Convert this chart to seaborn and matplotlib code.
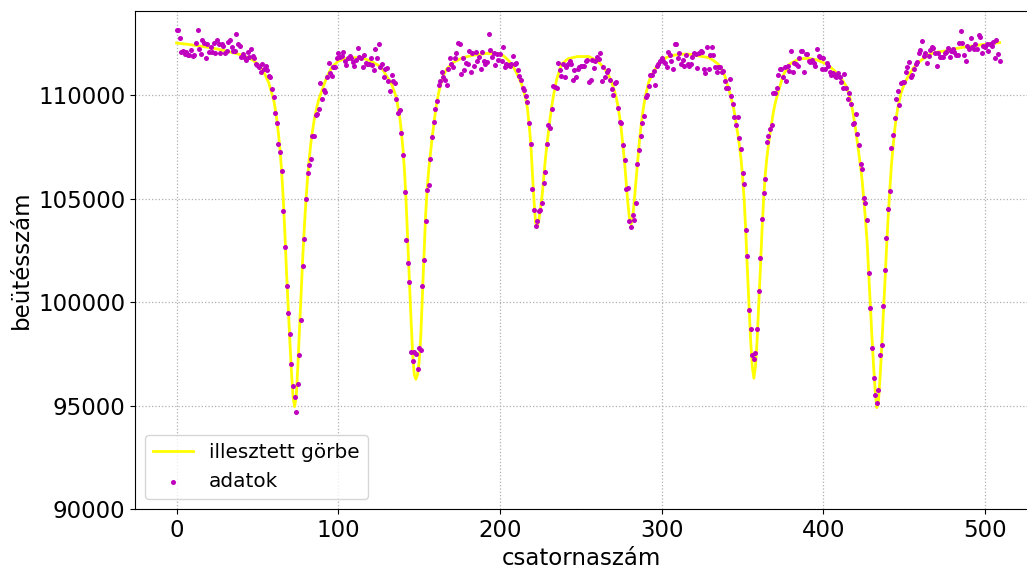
import numpy as np
import matplotlib
matplotlib.use("Agg")
import matplotlib.pyplot as plt
import seaborn as sns

# measured counts, one value per channel (0..509)
counts = [
    113150, 113150, 112760, 112070, 112150, 111990, 112070, 111940, 111940, 112180,
    111910, 111940, 112520, 113150, 112230, 111990, 112680, 112520, 111780, 112470,
    112070, 112340, 112070, 112520, 112040, 112680, 112470, 112040, 112470, 112390,
    112040, 112150, 112580, 112680, 112310, 112150, 112150, 112960, 112470, 112390,
    111830, 111990, 111830, 111710, 112070, 111830, 112230, 111910, 111780, 111500,
    111450, 111340, 111130, 111530, 111260, 111420, 111210, 110940, 110860, 110290,
    109920, 109130, 108680, 107660, 107250, 106330, 104400, 102640, 100760, 99470,
    98470, 97000, 95960, 95400, 94710, 96050, 97450, 99120, 101750, 103060,
    104990, 106240, 106610, 106920, 108050, 108050, 109050, 109100, 109320, 110580,
    109840, 110260, 110160, 110900, 111580, 111050, 110940, 111340, 111370, 111820,
    112020, 111870, 111910, 112070, 111660, 111470, 111780, 111910, 111780, 111620,
    111420, 111700, 112260, 111870, 111790, 111370, 111940, 111580, 111530, 111530,
    111780, 111450, 111210, 112230, 111780, 112470, 111370, 111530, 110890, 111290,
    111310, 110690, 110210, 110980, 110690, 110610, 109840, 109160, 109270, 108190,
    107090, 105320, 103020, 101890, 100960, 97580, 97130, 97610, 97480, 96760,
    97780, 97690, 100760, 102050, 103940, 105400, 105640, 106930, 107980, 108710,
    109320, 109720, 110480, 110690, 111130, 110890, 110730, 110480, 111290, 111820,
    111530, 111340, 111780, 112020, 112500, 112470, 111020, 111790, 111210, 111580,
    111530, 112120, 111130, 112030, 111420, 112070, 111660, 111860, 111260, 112070,
    111660, 111530, 111620, 112960, 112180, 111870, 112020, 111470, 112000, 111700,
    112000, 111630, 112310, 111370, 111500, 111450, 111420, 111500, 111910, 111500,
    111580, 111200, 110940, 110730, 110370, 110260, 109940, 109650, 108640, 107630,
    105480, 104430, 103670, 103910, 104400, 104440, 104800, 105770, 106290, 107660,
    108550, 108430, 109350, 110450, 110420, 110370, 111580, 111230, 110940, 111500,
    110860, 111370, 111500, 111660, 111500, 110730, 111230, 110900, 111260, 111370,
    111420, 111420, 111420, 111660, 111710, 110650, 110730, 111710, 111310, 111660,
    111870, 111740, 112020, 110690, 111340, 110900, 111130, 111210, 110730, 110320,
    110000, 110610, 110660, 109370, 108720, 108640, 107590, 106850, 105490, 105530,
    103910, 103640, 104220, 103990, 104800, 106690, 107340, 108030, 108680, 109000,
    109890, 110000, 110450, 110970, 110970, 111180, 110480, 111420, 111530, 111660,
    111780, 111660, 111580, 111340, 112070, 111940, 111660, 111260, 112470, 112470,
    111780, 112020, 111500, 111710, 111420, 111940, 111530, 111420, 111500, 111870,
    112020, 111990, 111310, 112020, 112150, 112070, 111260, 111050, 112310, 111260,
    111950, 112310, 111950, 111370, 111130, 111370, 111370, 111100, 111180, 110690,
    110370, 110340, 110780, 109970, 109560, 108950, 108550, 108950, 107920, 107380,
    106220, 105690, 103480, 102220, 99630, 98710, 97420, 97240, 97530, 98710,
    100550, 102140, 104040, 105280, 105930, 107740, 108030, 108350, 108550, 110100,
    110100, 110370, 110970, 111290, 111260, 110860, 111340, 110690, 111420, 111180,
    112150, 111100, 111580, 111500, 111420, 111780, 112120, 112120, 111130, 111990,
    111990, 111660, 111620, 111710, 111580, 111420, 112230, 111910, 111830, 111290,
    111780, 111290, 111580, 111420, 111130, 110970, 111070, 110940, 110860, 111070,
    110900, 110650, 110370, 111020, 110370, 109840, 110130, 109560, 108630, 108680,
    109080, 108140, 107580, 106690, 106420, 105040, 104800, 103960, 101410, 99710,
    97770, 96320, 95510, 95140, 95760, 97450, 97940, 99830, 101540, 103100,
    104510, 105370, 107460, 108060, 108920, 109810, 110210, 109520, 110580, 110650,
    110650, 111100, 111340, 111620, 110860, 110990, 111260, 111530, 111620, 112020,
    112200, 112600, 111910, 112020, 111580, 111910, 112200, 112310, 112260, 112020,
    111420, 112020, 111830, 111830, 111830, 112020, 112070, 112260, 111830, 112150,
    112230, 112070, 111940, 111940, 112500, 113080, 112520, 111940, 111630, 112360,
    112230, 112750, 112310, 112230, 112470, 112230, 112910, 112790, 112040, 112390,
    112310, 112470, 112150, 112470, 112390, 112550, 111780, 112680, 111990, 111630,
]
channel = np.arange(len(counts))

# fitted curve
fit_channel = [
    0, 7, 13, 19, 24, 30, 34, 38, 41, 44, 47, 50, 53, 55, 57, 59, 60, 61, 62, 63,
    64, 65, 66, 67, 68, 69, 70, 71, 72, 73, 74, 75, 76, 77, 78, 79, 80, 81, 82, 83,
    84, 85, 86, 87, 88, 90, 93, 96, 100, 105, 110, 115, 120, 125, 128, 130, 132, 133, 134, 135,
    136, 137, 138, 139, 140, 141, 142, 143, 144, 145, 146, 147, 148, 149, 150, 151, 152, 153, 154, 155,
    156, 157, 158, 159, 160, 161, 163, 165, 167, 171, 177, 184, 192, 200, 203, 205, 207, 209, 211, 213,
    214, 215, 216, 217, 218, 219, 220, 221, 222, 223, 224, 225, 226, 227, 228, 229, 230, 231, 232, 233,
    235, 238, 242, 248, 255, 258, 261, 264, 267, 269, 271, 272, 273, 274, 275, 276, 277, 278, 279, 280,
    281, 282, 283, 284, 285, 286, 287, 288, 289, 290, 292, 295, 299, 303, 308, 312, 316, 320, 325, 329,
    332, 335, 337, 339, 341, 342, 343, 344, 345, 346, 347, 348, 349, 350, 351, 352, 353, 354, 355, 356,
    357, 358, 359, 360, 361, 362, 363, 364, 365, 366, 367, 368, 369, 370, 371, 372, 373, 375, 379, 385,
    391, 396, 402, 406, 409, 412, 414, 416, 418, 420, 422, 423, 424, 425, 426, 427, 428, 429, 430, 431,
    432, 433, 434, 435, 436, 437, 438, 439, 440, 441, 442, 443, 444, 445, 446, 448, 450, 453, 456, 459,
    462, 466, 470, 476, 481, 486, 491, 497, 503, 509,
]
fit_counts = [
    112520, 112460, 112390, 112320, 112250, 112150, 112070, 111990, 111920, 111820,
    111700, 111520, 111230, 110950, 110600, 110050, 109800, 109350, 108800, 108150,
    107350, 106300, 104950, 103300, 101450, 99800, 98200, 96700, 95450, 94950,
    95450, 96900, 98650, 100450, 102100, 103600, 104900, 106000, 106900, 107650,
    108250, 108750, 109150, 109500, 109800, 110250, 110900, 111350, 111650, 111780,
    111820, 111790, 111660, 111430, 111180, 110900, 110680, 110530, 110320, 110100,
    109830, 109400, 108950, 108250, 107400, 106300, 104750, 102900, 101000, 99150,
    97500, 96500, 96270, 96500, 97100, 98300, 100300, 102300, 104200, 105500,
    106450, 107200, 107900, 108550, 109150, 109700, 110450, 110950, 111260, 111580,
    111820, 111940, 112020, 112010, 111850, 111700, 111520, 111270, 110950, 110600,
    110380, 110100, 109800, 109350, 108600, 107700, 106300, 104950, 103850, 103620,
    103950, 104500, 105100, 106000, 106850, 107600, 108250, 108900, 109450, 109950,
    110750, 111490, 111760, 111870, 111870, 111750, 111600, 111350, 111000, 110650,
    110150, 109850, 109450, 108950, 108350, 107600, 106800, 105850, 104850, 104100,
    103750, 104050, 104850, 105750, 106700, 107600, 108350, 109000, 109550, 109980,
    110650, 111150, 111620, 111830, 111940, 111980, 111990, 111940, 111870, 111820,
    111680, 111500, 111250, 110950, 110400, 110150, 109850, 109550, 109150, 108650,
    108150, 107600, 106950, 106100, 104950, 103400, 101550, 99850, 98150, 96900,
    96320, 96900, 98150, 99850, 101550, 103400, 104950, 106100, 106950, 107600,
    108150, 108650, 109150, 109550, 109850, 110150, 110400, 110950, 111500, 111760,
    111780, 111710, 111500, 111250, 111000, 110700, 110450, 110000, 109300, 108300,
    107150, 106550, 105850, 104950, 104000, 102950, 101400, 99950, 98350, 96950,
    95750, 94900, 95150, 96300, 97750, 99300, 100900, 102550, 104050, 105350,
    106550, 107450, 108250, 108900, 109400, 110100, 110550, 111000, 111350, 111600,
    111780, 111990, 112080, 112150, 112240, 112310, 112370, 112430, 112490, 112540,
]

x_ticks = [0, 100, 200, 300, 400, 500]
y_ticks = [90000, 95000, 100000, 105000, 110000]

fig = plt.figure(figsize=(10.27, 5.71), dpi=100)
ax = fig.add_axes([135 / 1027, 62 / 571, 892 / 1027, 498 / 571])

sns.lineplot(x=fit_channel, y=fit_counts, color="yellow", lw=2,
             label="illesztett görbe", ax=ax)
sns.scatterplot(x=channel, y=counts, color="m", s=13, linewidth=0,
                label="adatok", ax=ax, zorder=3)

ax.set_xlim(-25.7, 525.9)
ax.set_ylim(90000, 114070)
ax.set_xticks(x_ticks)
ax.set_yticks(y_ticks)
ax.tick_params(labelsize=16.5)
ax.spines["right"].set_visible(False)
ax.grid(True, linestyle=":", color="#b0b0b0", lw=0.9)
ax.set_xlabel("csatornaszám", fontsize=16.5)
ax.set_ylabel("beütésszám", fontsize=16.5)
ax.legend(loc="lower left", fontsize=14.4)

fig.savefig("out.png", dpi=100)
